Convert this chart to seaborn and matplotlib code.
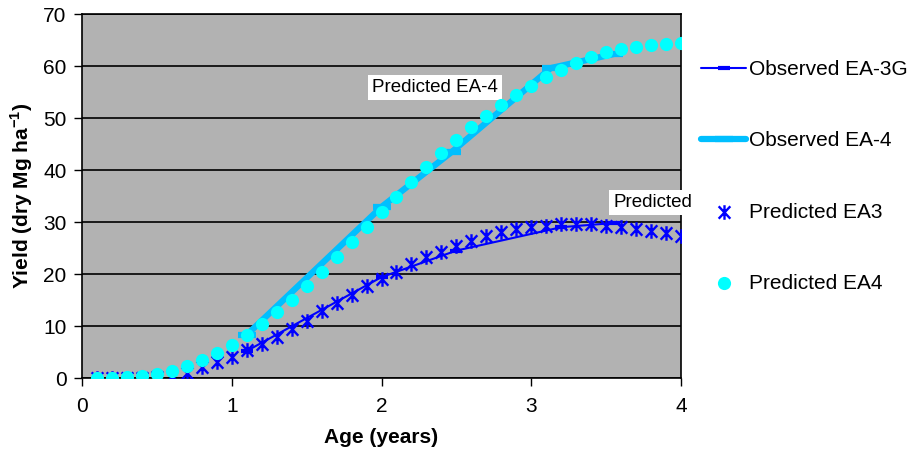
import numpy as np
import pandas as pd
import matplotlib
matplotlib.use("Agg")
import matplotlib.pyplot as plt
from matplotlib.path import Path
import seaborn as sns

# ---- data ----
ages_pred = [round(0.1 * i, 1) for i in range(1, 41)]
pred_ea3 = [0.0, 0.0, 0.0, 0.0, 0.1, 0.4, 1.0, 2.1, 3.0, 4.1,
            5.3, 6.5, 7.9, 9.4, 11.0, 12.8, 14.4, 16.0, 17.6, 19.0,
            20.4, 21.9, 23.2, 24.3, 25.4, 26.4, 27.3, 28.1, 28.6, 29.0,
            29.2, 29.6, 29.7, 29.6, 29.2, 29.1, 28.7, 28.3, 27.9, 27.3]
pred_ea4 = [0.0, 0.0, 0.1, 0.4, 0.8, 1.4, 2.3, 3.5, 4.8, 6.3,
            8.3, 10.4, 12.6, 15.0, 17.7, 20.4, 23.3, 26.2, 29.0, 32.0,
            34.9, 37.7, 40.5, 43.2, 45.8, 48.2, 50.4, 52.5, 54.4, 56.2,
            57.8, 59.2, 60.5, 61.7, 62.6, 63.2, 63.7, 64.0, 64.2, 64.4]
ages_obs3 = [1.1, 2.0, 2.5, 3.2, 3.55]
obs_ea3g = [5.2, 19.4, 24.5, 29.0, 29.8]
ages_obs4 = [1.1, 2.0, 2.47, 3.13, 3.55]
obs_ea4 = [8.3, 32.9, 43.5, 59.6, 62.3]

x_ticks = [0, 1, 2, 3, 4]
y_ticks = [0, 10, 20, 30, 40, 50, 60, 70]

df_pred = pd.DataFrame({"Age": ages_pred, "EA3": pred_ea3, "EA4": pred_ea4})
df_o3 = pd.DataFrame({"Age": ages_obs3, "Yield": obs_ea3g})
df_o4 = pd.DataFrame({"Age": ages_obs4, "Yield": obs_ea4})

sns.set_theme(style="white")
plt.rcParams['font.family'] = ['Liberation Sans', 'DejaVu Sans']
plt.rcParams['mathtext.fontset'] = 'custom'
plt.rcParams['mathtext.rm'] = 'Liberation Sans'
plt.rcParams['mathtext.bf'] = 'Liberation Sans:bold'
plt.rcParams['text.color'] = 'black'
plt.rcParams['axes.labelcolor'] = 'black'

FS = 15

# Excel-style asterisk marker: X with a vertical bar
ast = Path([(0, -1), (0, 1), (-0.8, -0.85), (0.8, 0.85), (-0.8, 0.85), (0.8, -0.85)],
           [Path.MOVETO, Path.LINETO, Path.MOVETO, Path.LINETO, Path.MOVETO, Path.LINETO])

fig = plt.figure(figsize=(9.15, 4.51), dpi=100)
ax = fig.add_axes([82 / 915, 1 - 378 / 451, (681 - 82) / 915, (378 - 14) / 451])
ax.set_facecolor("#b2b2b2")

BLUE = "#0000ff"
SKY = "#00bfff"
CYAN = "#00ffff"

sns.lineplot(data=df_o3, x="Age", y="Yield", ax=ax, color=BLUE, linewidth=1.5,
             marker="_", markersize=9, markeredgewidth=3, markeredgecolor=BLUE,
             label="Observed EA-3G", zorder=3)
sns.lineplot(data=df_o4, x="Age", y="Yield", ax=ax, color=SKY, linewidth=4.5,
             marker="_", markersize=13, markeredgewidth=4.5, markeredgecolor=SKY,
             label="Observed EA-4", zorder=2)
sns.scatterplot(data=df_pred, x="Age", y="EA3", ax=ax, color=BLUE, marker=ast,
                s=110, linewidth=1.7, edgecolor=BLUE, label="Predicted EA3", zorder=4)
sns.scatterplot(data=df_pred, x="Age", y="EA4", ax=ax, color=CYAN, marker="o",
                s=90, linewidth=0, label="Predicted EA4", zorder=5)

ax.set_xlim(0, 4)
ax.set_ylim(0, 70)
ax.set_xticks(x_ticks)
ax.set_yticks(y_ticks)
ax.yaxis.grid(True, color="black", linewidth=1.2)
ax.xaxis.grid(False)
ax.set_axisbelow(True)
for s in ax.spines.values():
    s.set_color("black")
    s.set_linewidth(1.2)
ax.tick_params(axis="y", which="both", direction="out", length=6, width=1,
               colors="black", labelsize=FS, left=True, pad=5)
ax.tick_params(axis="x", which="both", direction="out", length=6, width=1,
               colors="black", labelsize=FS, bottom=True, pad=8)
ax.set_xlabel("Age (years)", fontsize=FS, fontweight="bold", labelpad=8)
ax.set_ylabel("Yield (dry Mg ha$^\\mathbf{-1}$)", fontsize=FS, fontweight="bold", labelpad=6)

ax.text(1.937, 55.9, "Predicted EA-4", fontsize=13.5, va="center", ha="left",
        bbox=dict(facecolor="white", edgecolor="none", pad=3))
ax.text(3.546, 33.8, "Predicted", fontsize=13.5, va="center", ha="left", clip_on=False,
        bbox=dict(facecolor="white", edgecolor="none", pad=3))

handles, labels = ax.get_legend_handles_labels()
ax.get_legend().remove()
fig.legend(handles, labels, loc="upper left", bbox_to_anchor=(693 / 915, 1 - 52 / 451),
           frameon=False, fontsize=FS, labelspacing=2.5, handlelength=2.15,
           handletextpad=0.15, borderaxespad=0)

fig.savefig("out.png", dpi=100)
